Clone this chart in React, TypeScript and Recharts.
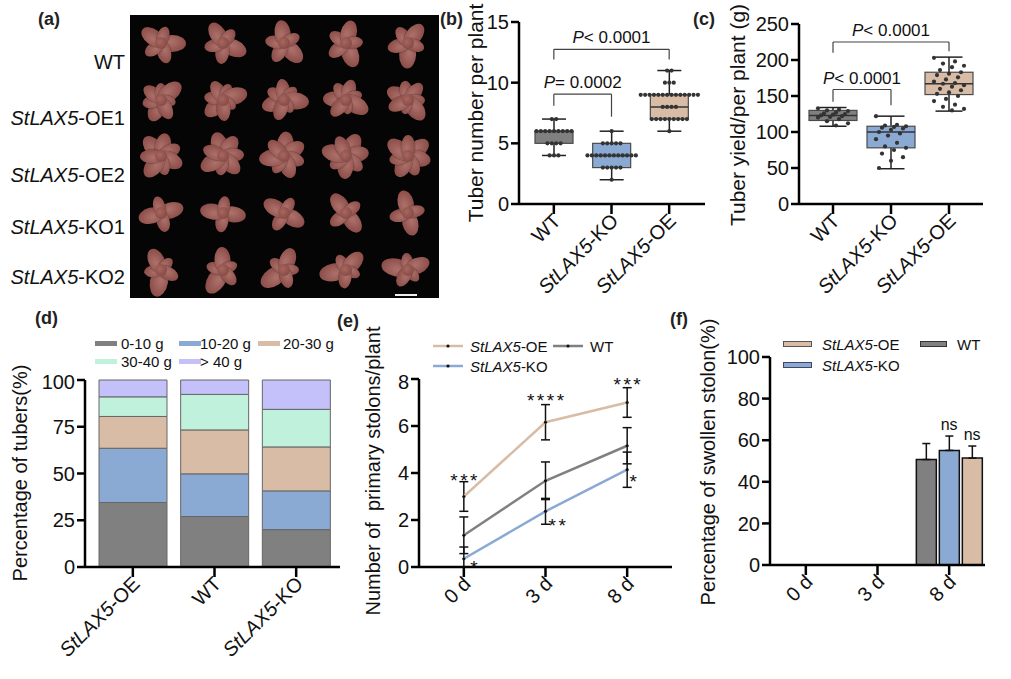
import React from 'react';
import {
  ComposedChart, BarChart, Bar, Line, XAxis, YAxis, ErrorBar, ReferenceLine, ReferenceDot,
} from 'recharts';

const FONT = '"Liberation Sans", Arial, Helvetica, sans-serif';
const INK = '#111';

const GRAY = '#808080';
const BLUE = '#8aa9d3';
const TAN = '#d8bca6';
const MINT = '#c0f1dc';
const LILAC = '#c3c0fa';

// (b) tuber number per plant
const boxGroups = ['WT', 'StLAX5-KO', 'StLAX5-OE'];
const numWT = [7, 7, 6, 6, 6, 6, 6, 6, 6, 6, 6, 5, 5, 5, 5, 4, 4, 4];
const numKO = [6, 5, 5, 5, 5, 5, 4, 4, 4, 4, 4, 4, 4, 4, 4, 4, 4, 4, 3, 3, 3, 3, 3, 2];
const numOE = [11, 11, 10, 10, 10, 9, 9, 9, 9, 9, 9, 9, 9, 9, 9, 9, 9, 9, 9, 8, 8, 8, 8, 7, 7, 7, 7, 7, 7, 7, 7, 7, 6];
// min, q1, median, q3, max
const numStats = [[4, 5, 6, 6, 7], [2, 3, 4, 5, 6], [6, 7, 8, 9, 11]];

// (c) tuber yield per plant (g)
const yldWT = [133, 131, 130, 129, 127, 126, 125, 124, 123, 122, 121, 120, 118, 115, 112, 109];
const yldKO = [122, 110, 109, 108, 107, 106, 105, 103, 100, 98, 95, 90, 85, 80, 78, 75, 70, 65, 60, 50];
const yldOE = [203, 198, 195, 192, 190, 186, 183, 181, 179, 176, 173, 170, 168, 167, 165, 163, 160, 158, 155, 153, 150, 146, 143, 138, 135, 132, 130];
const yldStats = [[108, 116, 123, 130, 134], [49, 78, 100, 108, 122], [129, 152, 167, 183, 204]];

// (d) tuber size classes (%)
const sizeGroups = ['StLAX5-OE', 'WT', 'StLAX5-KO'];
const size0_10 = [34.5, 27, 20];
const size10_20 = [29, 22.8, 20.7];
const size20_30 = [17, 23.5, 23.5];
const size30_40 = [10.5, 19, 20.1];
const size40 = [9, 7.7, 15.7];

// (e) primary stolons per plant
const days = ['0 d', '3 d', '8 d'];
const stolOE = [3.0, 6.16, 7.0];
const stolOEsd = [0.63, 0.75, 0.63];
const stolWT = [1.35, 3.67, 5.16];
const stolWTsd = [0.78, 0.8, 0.77];
const stolKO = [0.35, 2.37, 4.14];
const stolKOsd = [[0.35, 0.5], [0.55, 0.55], [0.75, 0.75]];

// (f) swollen stolons (%)
const swWT = [0, 0, 50.7];
const swWTsd = [0, 0, 7.7];
const swKO = [0, 0, 55.1];
const swKOsd = [0, 0, 6.9];
const swOE = [0, 0, 51.4];
const swOEsd = [0, 0, 5.8];

const photoRows = ['WT', 'StLAX5-OE1', 'StLAX5-OE2', 'StLAX5-KO1', 'StLAX5-KO2'];

const axisLine = { stroke: '#000', strokeWidth: 2.5 };

function Gene({ text }: { text: string }) {
  const m = text.match(/^(StLAX5)(.*)$/);
  if (!m) return <>{text}</>;
  return <><tspan fontStyle="italic">{m[1]}</tspan>{m[2]}</>;
}

function GeneHtml({ text }: { text: string }) {
  const m = text.match(/^(StLAX5)(.*)$/);
  if (!m) return <>{text}</>;
  return <><i>{m[1]}</i>{m[2]}</>;
}

function SlantTick(props: any) {
  const { x, y, payload } = props;
  const ax = x + 8;
  const ay = y + 6;
  return (
    <text x={ax} y={ay} transform={`rotate(-45 ${ax} ${ay})`} textAnchor="end" fontSize={20}
      fontFamily={FONT} fill={INK}>
      <Gene text={String(payload.value)} />
    </text>
  );
}

function layoutDots(pts: number[], swarm: boolean): [number, number][] {
  if (swarm) {
    const counts: Record<string, number> = {};
    pts.forEach((v) => { counts[v] = (counts[v] || 0) + 1; });
    const seen: Record<string, number> = {};
    return pts.map((v) => {
      const n = counts[v];
      const j = seen[v] || 0;
      seen[v] = j + 1;
      return [(j - (n - 1) / 2) * 4.4, v];
    });
  }
  return pts.map((v, i) => [((i * 7) % 11 - 5) * 3, v]);
}

function BoxShape(props: any) {
  const { x, y, width, height, payload } = props;
  const [mn, q1, md, q3, mx] = payload.stats;
  const top = Math.min(y, y + height);
  const h = Math.abs(height);
  const k = h / (mx - mn);
  const py = (v: number) => top + (mx - v) * k;
  const cx = x + width / 2;
  const cap = payload.cap;
  const dots = layoutDots(payload.pts, payload.swarm);
  return (
    <g>
      <line x1={cx} x2={cx} y1={py(mx)} y2={py(mn)} stroke="#222" strokeWidth={1.5} />
      <line x1={cx - cap / 2} x2={cx + cap / 2} y1={py(mx)} y2={py(mx)} stroke="#222" strokeWidth={1.5} />
      <line x1={cx - cap / 2} x2={cx + cap / 2} y1={py(mn)} y2={py(mn)} stroke="#222" strokeWidth={1.5} />
      <rect x={x} y={py(q3)} width={width} height={py(q1) - py(q3)} fill={payload.fill}
        stroke="#4a4a4a" strokeWidth={1.2} />
      <line x1={x} x2={x + width} y1={py(md)} y2={py(md)} stroke="#333" strokeWidth={1.5} />
      {dots.map(([dx, v], i) => (
        <circle key={i} cx={cx + dx} cy={py(v)} r={2.1} fill="#333" />
      ))}
    </g>
  );
}

function PText(props: any) {
  const vb = props.viewBox || {};
  return (
    <text x={vb.x + vb.width / 2} y={vb.y - 6} textAnchor="middle" fontSize={17} fontFamily={FONT} fill={INK}>
      <tspan fontStyle="italic">P</tspan>{props.t}
    </text>
  );
}

function Mark(props: any) {
  const vb = props.viewBox || {};
  const cx = vb.x + (vb.width || 0) / 2;
  const cy = vb.y + (vb.height || 0) / 2;
  const ls = props.spacing || 0;
  return (
    <text x={cx + (props.dx || 0) + (props.anchor ? 0 : ls / 2)} y={cy + (props.dy || 0)}
      textAnchor={props.anchor || 'middle'} letterSpacing={ls}
      fontSize={props.size || 19} fontFamily={FONT} fill={INK}>
      {props.t}
    </text>
  );
}

function Bracket({ a, b, y, la, lb, t }: { a: string; b: string; y: number; la: number; lb: number; t: string }) {
  return [
    <ReferenceLine key="h" segment={[{ x: a, y }, { x: b, y }]} stroke="#444" strokeWidth={1.2} label={<PText t={t} />} />,
    <ReferenceLine key="l" segment={[{ x: a, y }, { x: a, y: la }]} stroke="#444" strokeWidth={1.2} />,
    <ReferenceLine key="r" segment={[{ x: b, y }, { x: b, y: lb }]} stroke="#444" strokeWidth={1.2} />,
  ];
}

function VTitle({ cx, cy, text, size = 20 }: { cx: number; cy: number; text: string; size?: number }) {
  return (
    <div style={{
      position: 'absolute', left: cx, top: cy, transform: 'translate(-50%, -50%) rotate(-90deg)',
      whiteSpace: 'pre', fontSize: size, color: INK, lineHeight: 1,
    }}>{text}</div>
  );
}

function PanelTag({ x, y, t }: { x: number; y: number; t: string }) {
  return <div style={{ position: 'absolute', left: x, top: y, fontSize: 18, fontWeight: 'bold', color: '#222', lineHeight: 1 }}>{t}</div>;
}

function Place({ x, y, children }: { x: number; y: number; children: React.ReactNode }) {
  return <div style={{ position: 'absolute', left: x, top: y }}>{children}</div>;
}

// decorative tuber clusters for the photo panel (lengths in px per row)
const tuberSizes = [
  [28, 24, 22, 26, 20],
  [26, 22, 24, 20, 28, 18, 24],
  [28, 26, 24, 26, 22, 28, 24],
  [26, 22, 26, 20],
  [30, 20, 26, 18, 22],
];

function Rosette({ sizes, seed }: { sizes: number[]; seed: number }) {
  const n = sizes.length;
  return (
    <div style={{ position: 'relative', width: 56, height: 54 }}>
      {sizes.map((w, i) => {
        const ang = (i * 360) / n + seed * 23;
        const h = Math.round(w * 0.6);
        return (
          <div key={i} style={{
            position: 'absolute', left: 28 - w / 2, top: 27 - h / 2, width: w, height: h, borderRadius: '50%',
            transform: `rotate(${ang}deg) translateX(${w / 2 - 3}px)`,
            background: 'radial-gradient(ellipse at 45% 40%, #ad716b, #8e4f4b 70%, #6a3633)',
            boxShadow: '0 0 1px #000',
          }} />
        );
      })}
      <div style={{
        position: 'absolute', left: 22, top: 21, width: 12, height: 12, borderRadius: '50%',
        background: 'radial-gradient(circle at 40% 40%, #a8665f, #7a413d)',
      }} />
    </div>
  );
}

function Photo() {
  return (
    <div style={{
      position: 'absolute', left: 130, top: 15, width: 309, height: 283, background: '#050505',
      display: 'grid', gridTemplateColumns: 'repeat(5, 1fr)', gridTemplateRows: 'repeat(5, 1fr)',
    }}>
      {photoRows.map((r, ri) => [0, 1, 2, 3, 4].map((c) => (
        <div key={r + c} style={{ display: 'flex', alignItems: 'center', justifyContent: 'center' }}>
          <Rosette sizes={tuberSizes[ri]} seed={ri * 5 + c} />
        </div>
      )))}
      <div style={{ position: 'absolute', left: 265, top: 279, width: 22, height: 2, background: '#eee' }} />
    </div>
  );
}

function ChartB() {
  const rows = boxGroups.map((g, i) => ({
    name: g, range: [numStats[i][0], numStats[i][4]], stats: numStats[i],
    pts: [numWT, numKO, numOE][i], fill: [GRAY, BLUE, TAN][i], cap: 24, swarm: true,
  }));
  return (
    <ComposedChart width={310} height={300} data={rows} margin={{ top: 22, right: 5, left: 0, bottom: 0 }}>
      <XAxis dataKey="name" type="category" interval={0} height={96} padding={{ left: 6, right: 7 }}
        axisLine={axisLine} tickLine={axisLine} tickSize={10} tick={<SlantTick />} />
      <YAxis type="number" domain={[0, 15]} ticks={[0, 5, 10, 15]} width={119} axisLine={axisLine}
        tickLine={axisLine} tickSize={8} tick={{ fontSize: 20, fill: INK, fontFamily: FONT }} />
      <Bar dataKey="range" barSize={38} shape={<BoxShape />} isAnimationActive={false} />
      {Bracket({ a: 'WT', b: 'StLAX5-OE', y: 12.75, la: 11.9, lb: 11.9, t: '< 0.0001' })}
      {Bracket({ a: 'WT', b: 'StLAX5-KO', y: 9.05, la: 8.1, lb: 7.2, t: '= 0.0002' })}
    </ComposedChart>
  );
}

function ChartC() {
  const rows = boxGroups.map((g, i) => ({
    name: g, range: [yldStats[i][0], yldStats[i][4]], stats: yldStats[i],
    pts: [yldWT, yldKO, yldOE][i], fill: [GRAY, BLUE, TAN][i], cap: 27, swarm: false,
  }));
  return (
    <ComposedChart width={321} height={300} data={rows} margin={{ top: 24, right: 28, left: 0, bottom: 0 }}>
      <XAxis dataKey="name" type="category" interval={0} height={96} padding={{ left: 5, right: 5 }}
        axisLine={axisLine} tickLine={axisLine} tickSize={10} tick={<SlantTick />} />
      <YAxis type="number" domain={[0, 250]} ticks={[0, 50, 100, 150, 200, 250]} width={109} axisLine={axisLine}
        tickLine={axisLine} tickSize={8} tick={{ fontSize: 20, fill: INK, fontFamily: FONT }} />
      <Bar dataKey="range" barSize={48} shape={<BoxShape />} isAnimationActive={false} />
      {Bracket({ a: 'WT', b: 'StLAX5-OE', y: 225, la: 210, lb: 212, t: '< 0.0001' })}
      {Bracket({ a: 'WT', b: 'StLAX5-KO', y: 159, la: 142, lb: 137, t: '< 0.0001' })}
    </ComposedChart>
  );
}

function ChartD() {
  const rows = sizeGroups.map((g, i) => ({
    name: g, a: size0_10[i], b: size10_20[i], c: size20_30[i], d: size30_40[i], e: size40[i],
  }));
  const keys: [string, string][] = [['a', GRAY], ['b', BLUE], ['c', TAN], ['d', MINT], ['e', LILAC]];
  return (
    <BarChart width={345} height={309} data={rows} margin={{ top: 10, right: 5, left: 0, bottom: 0 }}>
      <XAxis dataKey="name" type="category" interval={0} height={112} padding={{ left: 7, right: 3 }}
        axisLine={axisLine} tickLine={axisLine} tickSize={10} tick={<SlantTick />} />
      <YAxis type="number" domain={[0, 100]} ticks={[0, 25, 50, 75, 100]} width={85} axisLine={axisLine}
        tickLine={axisLine} tickSize={8} tick={{ fontSize: 20, fill: INK, fontFamily: FONT }} />
      {keys.map(([k, c]) => (
        <Bar key={k} dataKey={k} stackId="s" fill={c} stroke="#666" strokeWidth={1} barSize={68} isAnimationActive={false} />
      ))}
    </BarChart>
  );
}

function ChartE() {
  const rows = days.map((d, i) => ({
    name: d, oe: stolOE[i], oeSd: stolOEsd[i], wt: stolWT[i], wtSd: stolWTsd[i], ko: stolKO[i], koSd: stolKOsd[i],
  }));
  const dot = { r: 1.6, fill: INK, stroke: 'none' };
  const eb = { width: 4.5, stroke: INK, strokeWidth: 1.5 };
  const ls = 2.5;
  return (
    <ComposedChart width={330} height={309} data={rows} margin={{ top: 9, right: 3, left: 0, bottom: 0 }}>
      <XAxis dataKey="name" type="category" scale="band" interval={0} height={112} padding={{ left: 4, right: 4 }}
        axisLine={axisLine} tickLine={axisLine} tickSize={10} tick={<SlantTick />} />
      <YAxis type="number" domain={[0, 8]} ticks={[0, 2, 4, 6, 8]} width={74} axisLine={axisLine}
        tickLine={axisLine} tickSize={8} tick={{ fontSize: 20, fill: INK, fontFamily: FONT }} />
      <Line dataKey="oe" stroke={TAN} strokeWidth={2.5} dot={dot} activeDot={false} isAnimationActive={false}>
        <ErrorBar dataKey="oeSd" direction="y" {...eb} />
      </Line>
      <Line dataKey="wt" stroke={GRAY} strokeWidth={2.5} dot={dot} activeDot={false} isAnimationActive={false}>
        <ErrorBar dataKey="wtSd" direction="y" {...eb} />
      </Line>
      <Line dataKey="ko" stroke={BLUE} strokeWidth={2.5} dot={dot} activeDot={false} isAnimationActive={false}>
        <ErrorBar dataKey="koSd" direction="y" {...eb} />
      </Line>
      <ReferenceDot x="0 d" y={stolOE[0] + stolOEsd[0]} r={1} fill="none" stroke="none" label={<Mark t="***" spacing={ls} dy={5} />} />
      <ReferenceDot x="3 d" y={stolOE[1] + stolOEsd[1]} r={1} fill="none" stroke="none" label={<Mark t="****" spacing={ls} dy={2} />} />
      <ReferenceDot x="8 d" y={stolOE[2] + stolOEsd[2]} r={1} fill="none" stroke="none" label={<Mark t="***" spacing={ls} dy={3} />} />
      <ReferenceDot x="0 d" y={stolKO[0]} r={1} fill="none" stroke="none" label={<Mark t="*" dx={10} dy={15} />} />
      <ReferenceDot x="3 d" y={stolKO[1] - stolKOsd[1][0]} r={1} fill="none" stroke="none" label={<Mark t="**" spacing={ls} anchor="start" dx={3} dy={8} />} />
      <ReferenceDot x="8 d" y={stolKO[2]} r={1} fill="none" stroke="none" label={<Mark t="*" dx={6} dy={18} />} />
    </ComposedChart>
  );
}

function ChartF() {
  const rows = days.map((d, i) => ({
    name: d, wt: swWT[i], wtSd: [0, swWTsd[i]], ko: swKO[i], koSd: [0, swKOsd[i]], oe: swOE[i], oeSd: [0, swOEsd[i]],
  }));
  const eb = { width: 4, stroke: INK, strokeWidth: 1.5 };
  return (
    <BarChart width={311} height={339} data={rows} barGap={3} margin={{ top: 17, right: 6, left: 0, bottom: 0 }}>
      <XAxis dataKey="name" type="category" interval={0} height={114}
        axisLine={axisLine} tickLine={axisLine} tickSize={10} tick={<SlantTick />} />
      <YAxis type="number" domain={[0, 100]} ticks={[0, 20, 40, 60, 80, 100]} width={90} axisLine={axisLine}
        tickLine={axisLine} tickSize={8} tick={{ fontSize: 20, fill: INK, fontFamily: FONT }} />
      <Bar dataKey="wt" fill={GRAY} stroke={INK} strokeWidth={1.5} barSize={20} isAnimationActive={false}>
        <ErrorBar dataKey="wtSd" direction="y" {...eb} />
      </Bar>
      <Bar dataKey="ko" fill={BLUE} stroke={INK} strokeWidth={1.5} barSize={20} isAnimationActive={false}>
        <ErrorBar dataKey="koSd" direction="y" {...eb} />
      </Bar>
      <Bar dataKey="oe" fill={TAN} stroke={INK} strokeWidth={1.5} barSize={20} isAnimationActive={false}>
        <ErrorBar dataKey="oeSd" direction="y" {...eb} />
      </Bar>
      <ReferenceDot x="8 d" y={swKO[2] + swKOsd[2]} r={1} fill="none" stroke="none" label={<Mark t="ns" size={16} dy={-6} />} />
      <ReferenceDot x="8 d" y={swOE[2] + swOEsd[2]} r={1} fill="none" stroke="none" label={<Mark t="ns" size={16} dx={23} dy={-6} />} />
    </BarChart>
  );
}

function LegendText({ x, y, text, size = 15 }: { x: number; y: number; text: string; size?: number }) {
  return (
    <div style={{ position: 'absolute', left: x, top: y, transform: 'translateY(-50%)', fontSize: size, color: INK, whiteSpace: 'pre', lineHeight: 1 }}>
      <GeneHtml text={text} />
    </div>
  );
}

function Swatch({ x, y, w, h, color, edge }: { x: number; y: number; w: number; h: number; color: string; edge?: string }) {
  return <div style={{
    position: 'absolute', left: x, top: y - h / 2, width: w, height: h, background: color,
    boxSizing: 'border-box', border: edge ? `1.2px solid ${edge}` : 'none',
  }} />;
}

function LineSwatch({ x, y, color }: { x: number; y: number; color: string }) {
  return (
    <svg style={{ position: 'absolute', left: x, top: y - 4 }} width={30} height={8}>
      <line x1={0} x2={30} y1={4} y2={4} stroke={color} strokeWidth={2.5} />
      <circle cx={15} cy={4} r={1.6} fill={INK} />
    </svg>
  );
}

export default function App() {
  return (
    <div style={{
      position: 'absolute', left: 0, top: 0, width: 1011, height: 679, background: '#fff',
      fontFamily: FONT, overflow: 'hidden',
    }}>
      <PanelTag x={38} y={10} t="(a)" />
      <PanelTag x={440} y={10} t="(b)" />
      <PanelTag x={693} y={10} t="(c)" />
      <PanelTag x={35} y={309} t="(d)" />
      <PanelTag x={337} y={312} t="(e)" />
      <PanelTag x={670} y={310} t="(f)" />

      {photoRows.map((r, i) => (
        <div key={r} style={{
          position: 'absolute', right: 1011 - 125, top: [62, 118, 175, 227, 277][i], transform: 'translateY(-50%)',
          fontSize: 20, color: INK, whiteSpace: 'pre', lineHeight: 1,
        }}><GeneHtml text={r} /></div>
      ))}
      <Photo />

      <Place x={400} y={0}><ChartB /></Place>
      <Place x={690} y={0}><ChartC /></Place>
      <Place x={0} y={370}><ChartD /></Place>
      <Place x={345} y={370}><ChartE /></Place>
      <Place x={680} y={340}><ChartF /></Place>

      <VTitle cx={475} cy={113} text="Tuber number per plant" size={21} />
      <VTitle cx={737} cy={115} text="Tuber yield/per plant (g)" size={21} />
      <VTitle cx={20} cy={473} text="Percentage of tubers(%)" />
      <VTitle cx={373} cy={471} text="Number of  primary stolons/plant" />
      <VTitle cx={708} cy={462} text="Percentage of swollen stolon(%)" />

      <Swatch x={95} y={343} w={22} h={5} color={GRAY} />
      <LegendText x={121} y={343} text="0-10 g" />
      <Swatch x={179} y={343} w={22} h={5} color={BLUE} />
      <LegendText x={200} y={343} text="10-20 g" />
      <Swatch x={258} y={343} w={22} h={5} color={TAN} />
      <LegendText x={283} y={343} text="20-30 g" />
      <Swatch x={95} y={361} w={22} h={5} color={MINT} />
      <LegendText x={121} y={361} text="30-40 g" />
      <Swatch x={179} y={361} w={22} h={5} color={LILAC} />
      <LegendText x={200} y={361} text="> 40 g" />

      <LineSwatch x={433} y={346} color={TAN} />
      <LegendText x={470} y={346} text="StLAX5-OE" />
      <LineSwatch x={553} y={346} color={GRAY} />
      <LegendText x={590} y={346} text="WT" />
      <LineSwatch x={433} y={366} color={BLUE} />
      <LegendText x={470} y={366} text="StLAX5-KO" />

      <Swatch x={783} y={344} w={29} h={6} color={TAN} edge="#555" />
      <LegendText x={822} y={344} text="StLAX5-OE" />
      <Swatch x={920} y={344} w={27} h={6} color={GRAY} edge="#333" />
      <LegendText x={957} y={344} text="WT" />
      <Swatch x={783} y={365} w={29} h={6} color={BLUE} edge="#446" />
      <LegendText x={822} y={365} text="StLAX5-KO" />
    </div>
  );
}
